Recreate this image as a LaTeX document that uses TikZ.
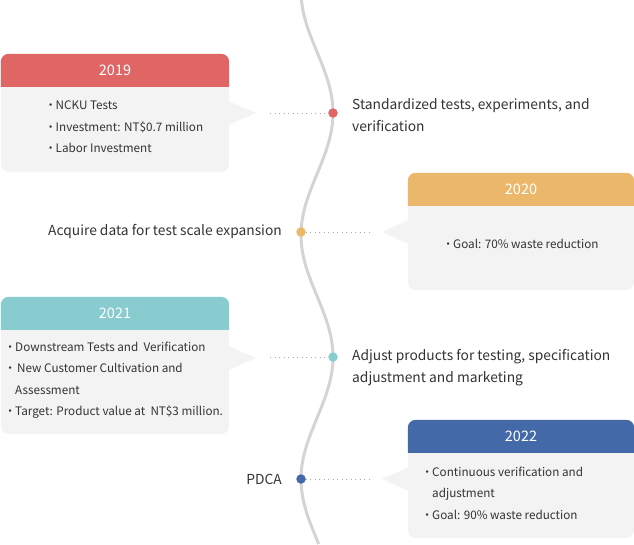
\documentclass[tikz,border=0pt]{standalone}
\usepackage{fontspec}
\setmainfont{Noto Sans CJK TC}
\usetikzlibrary{calc, positioning}

\definecolor{c2019}{HTML}{E06666}
\definecolor{c2020}{HTML}{EBB86B}
\definecolor{c2021}{HTML}{88CCCF}
\definecolor{c2022}{HTML}{4369A8}
\definecolor{cardgray}{HTML}{F3F3F3}
\definecolor{linegray}{HTML}{D4D4D4}
\definecolor{dotgray}{HTML}{AAAAAA}
\definecolor{txtgray}{HTML}{333333}

\newcommand\bul{\makebox[4pt][c]{·}\kern3pt}

\begin{document}
\begin{tikzpicture}[
    x=1pt, y=-1pt,
    card/.style={fill=cardgray, rounded corners=8pt, inner sep=0pt},
    yeartext/.style={text=white, font=\fontsize{14.5}{16}\selectfont},
    itemtext/.style={text=txtgray, font=\fontsize{11.7}{21.5}\selectfont, align=left, anchor=north west, inner sep=0pt},
    sidetext/.style={text=txtgray, font=\fontsize{13.8}{22}\selectfont, align=left, inner sep=0pt},
    tldot/.style={circle, inner sep=0pt, minimum size=9.5pt},
    dotline/.style={dotgray, line width=1pt, dash pattern=on 1pt off 3.5pt}
]
\useasboundingbox (0,0) rectangle (634,544);

% Wavy time line
\draw[linegray, line width=3pt]
    plot[domain=0:544, samples=140, smooth] ({317+16*sin(1.47541*(\x-52))}, \x);

% ============ 2019 ============
\node[card, minimum width=228pt, minimum height=118pt] (b19) at (115,113) {};
\fill[c2019] ($(b19.north west)+(0,33)$) [rounded corners=8pt] -- (b19.north west) -- (b19.north east) [sharp corners] -- ($(b19.north east)+(0,33)$) -- cycle;
\node[yeartext] (y19) at ($(b19.north)+(0,16.5)$) {2019};
\fill[cardgray] (228,101) -- (256,113) -- (228,125) -- cycle;
\node[itemtext] (t19) at (48.5,101) {\bul NCKU Tests\\ \bul Investment: NT\$0.7 million\\ \bul Labor Investment};
\node[tldot, fill=c2019] (d19) at (333,113) {};
\coordinate (e19) at (270,113);
\draw[dotline] (e19) -- (d19);
\node[sidetext, anchor=west] (s19) at (352,115.5) {Standardized tests, experiments, and\\verification};

% ============ 2020 ============
\node[card, minimum width=226pt, minimum height=117pt] (b20) at (521,231.5) {};
\fill[c2020] ($(b20.north west)+(0,33)$) [rounded corners=8pt] -- (b20.north west) -- (b20.north east) [sharp corners] -- ($(b20.north east)+(0,33)$) -- cycle;
\node[yeartext] (y20) at ($(b20.north)+(0,16.5)$) {2020};
\fill[cardgray] (409,220) -- (382,232) -- (409,244) -- cycle;
\node[itemtext] (t20) at (446,238.5) {\bul Goal: 70\% waste reduction};
\node[tldot, fill=c2020] (d20) at (301,232) {};
\coordinate (e20) at (370,232);
\draw[dotline] (d20) -- (e20);
\node[sidetext, anchor=east] (s20) at (282,231) {Acquire data for test scale expansion};

% ============ 2021 ============
\node[card, minimum width=228pt, minimum height=137pt] (b21) at (115,365.5) {};
\fill[c2021] ($(b21.north west)+(0,33)$) [rounded corners=8pt] -- (b21.north west) -- (b21.north east) [sharp corners] -- ($(b21.north east)+(0,33)$) -- cycle;
\node[yeartext] (y21) at ($(b21.north)+(0,16.5)$) {2021};
\fill[cardgray] (228,346) -- (256,358) -- (228,370) -- cycle;
\node[itemtext] (t21) at (8,341.5) {\bul Downstream Tests and\ \ Verification\\ \bul\kern2pt New Customer Cultivation and\\ \kern7pt Assessment\\ \bul Target: Product value at\ \ NT\$3 million.};
\node[tldot, fill=c2021] (d21) at (333,357) {};
\coordinate (e21) at (270,357);
\draw[dotline] (e21) -- (d21);
\node[sidetext, anchor=west] (s21) at (352,367.5) {Adjust products for testing, specification\\adjustment and marketing};

% ============ 2022 ============
\node[card, minimum width=226pt, minimum height=118pt] (b22) at (521,479) {};
\fill[c2022] ($(b22.north west)+(0,33)$) [rounded corners=8pt] -- (b22.north west) -- (b22.north east) [sharp corners] -- ($(b22.north east)+(0,33)$) -- cycle;
\node[yeartext] (y22) at ($(b22.north)+(0,16.5)$) {2022};
\fill[cardgray] (409,467) -- (382,479) -- (409,491) -- cycle;
\node[itemtext] (t22) at (425,466.5) {\bul Continuous verification and\\ \kern7pt adjustment\\ \bul Goal: 90\% waste reduction};
\node[tldot, fill=c2022] (d22) at (301,479) {};
\coordinate (e22) at (370,479);
\draw[dotline] (d22) -- (e22);
\node[sidetext, anchor=east] (s22) at (282,479) {PDCA};

\end{tikzpicture}
\end{document}
